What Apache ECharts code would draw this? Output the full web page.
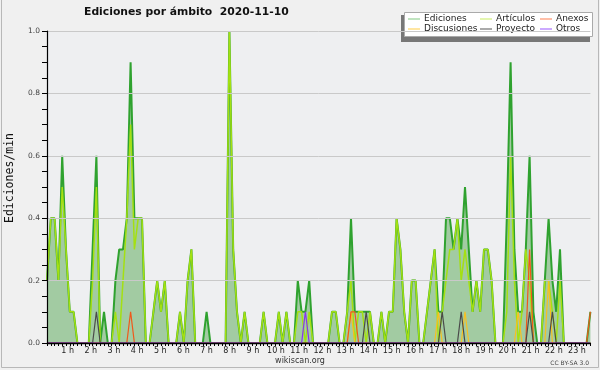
<!DOCTYPE html>
<html><head><meta charset="utf-8">
<script src="https://cdn.jsdelivr.net/npm/echarts@6/dist/echarts.min.js"></script>
<style>html,body{margin:0;padding:0;background:#f0f0f0;}#c{width:600px;height:370px;}</style>
</head><body><div id="c"></div>
<script>
// 10-minute buckets, edits per minute
const hourValues = [1,2,3,4,5,6,7,8,9,10,11,12,13,14,15,16,17,18,19,20,21,22,23];
const hourLabels = ['1 h','2 h','3 h','4 h','5 h','6 h','7 h','8 h','9 h','10 h','11 h','12 h','13 h','14 h','15 h','16 h','17 h','18 h','19 h','20 h','21 h','22 h','23 h'];
const yTicks = [0, 0.2, 0.4, 0.6, 0.8, 1.0];

const ediciones = [
0.2,0.4,0.4,0.2,0.6,0.3, 0.1,0.1,0,0,0,0, 0.3,0.6,0,0.1,0,0, 0.2,0.3,0.3,0.4,0.9,0.4,
0.4,0.4,0,0,0.1,0.2, 0.1,0.2,0,0,0,0.1, 0,0.2,0.3,0,0,0, 0.1,0,0,0,0,0,
1.0,0.3,0.1,0,0.1,0, 0,0,0,0.1,0,0, 0,0.1,0,0.1,0,0, 0.2,0.1,0.1,0.2,0,0,
0,0,0,0.1,0.1,0, 0,0.1,0.4,0.1,0.1,0.1, 0.1,0.1,0,0,0.1,0, 0.1,0.1,0.4,0.3,0.1,0,
0.2,0.2,0,0,0.1,0.2, 0.3,0.1,0.1,0.4,0.4,0.3, 0.4,0.3,0.5,0.3,0.1,0.2, 0.1,0.3,0.3,0.2,0,0,
0,0.4,0.9,0.3,0.1,0.1, 0.3,0.6,0.1,0,0,0.2, 0.4,0.2,0.1,0.3,0,0, 0,0,0,0,0,0.1];
const articulos = [
0.2,0.4,0.4,0.2,0.5,0.3, 0.1,0.1,0,0,0,0, 0.2,0.5,0,0,0,0, 0.1,0,0.2,0.4,0.7,0.3,
0.4,0.4,0,0,0.1,0.2, 0.1,0.2,0,0,0,0.1, 0,0.2,0.3,0,0,0, 0,0,0,0,0,0,
1.0,0.3,0.1,0,0.1,0, 0,0,0,0.1,0,0, 0,0.1,0,0.1,0,0, 0.1,0.1,0,0.1,0,0,
0,0,0,0.1,0.1,0, 0,0.1,0.2,0,0.1,0.1, 0,0.1,0,0,0.1,0, 0.1,0.1,0.4,0.3,0.1,0,
0.2,0.2,0,0,0.1,0.2, 0.3,0,0.1,0.2,0.3,0.3, 0.4,0.2,0.3,0.2,0.1,0.2, 0.1,0.3,0.3,0.2,0,0,
0,0.1,0.6,0.2,0,0.1, 0.3,0.2,0,0,0,0.2, 0.2,0.1,0,0.2,0,0, 0,0,0,0,0,0];
const anexos = [
0,0,0,0,0,0, 0,0,0,0,0,0, 0,0,0,0,0,0, 0,0,0,0,0.1,0,
0,0,0,0,0,0, 0,0,0,0,0,0, 0,0,0,0,0,0, 0,0,0,0,0,0,
0,0,0,0,0,0, 0,0,0,0,0,0, 0,0,0,0,0,0, 0,0,0,0,0,0,
0,0,0,0,0,0, 0,0,0.1,0.1,0,0, 0,0,0,0,0,0, 0,0,0,0,0,0,
0,0,0,0,0,0, 0,0,0,0,0,0, 0,0,0,0,0,0, 0,0,0,0,0,0,
0,0,0,0,0,0, 0,0.3,0,0,0,0, 0,0,0,0,0,0, 0,0,0,0,0,0.1];
const discusiones = [
0,0,0,0,0,0, 0,0,0,0,0,0, 0,0,0,0,0,0, 0,0,0,0,0,0,
0,0,0,0,0,0, 0,0,0,0,0,0, 0,0,0,0,0,0, 0,0,0,0,0,0,
0,0,0,0,0,0, 0,0,0,0,0,0, 0,0,0,0,0,0, 0,0,0,0,0,0,
0,0,0,0,0,0, 0,0,0.1,0,0,0, 0,0,0,0,0,0, 0,0,0,0,0,0,
0,0,0,0,0,0, 0,0.1,0,0,0,0, 0,0,0.1,0,0,0, 0,0,0,0,0,0,
0,0,0,0,0.1,0, 0,0,0,0,0,0, 0.2,0,0,0,0,0, 0,0,0,0,0,0];
const proyecto = [
0,0,0,0,0,0, 0,0,0,0,0,0, 0,0.1,0,0,0,0, 0,0,0,0,0,0,
0,0,0,0,0,0, 0,0,0,0,0,0, 0,0,0,0,0,0, 0,0,0,0,0,0,
0,0,0,0,0,0, 0,0,0,0,0,0, 0,0,0,0,0,0, 0,0,0,0,0,0,
0,0,0,0,0,0, 0,0,0,0,0,0, 0.1,0,0,0,0,0, 0,0,0,0,0,0,
0,0,0,0,0,0, 0,0,0.1,0,0,0, 0,0.1,0,0,0,0, 0,0,0,0,0,0,
0,0,0,0,0,0, 0,0.1,0,0,0,0, 0,0.1,0,0,0,0, 0,0,0,0,0,0];
const otros = [
0,0,0,0,0,0, 0,0,0,0,0,0, 0,0,0,0,0,0, 0,0,0,0,0,0,
0,0,0,0,0,0, 0,0,0,0,0,0, 0,0,0,0,0,0, 0,0,0,0,0,0,
0,0,0,0,0,0, 0,0,0,0,0,0, 0,0,0,0,0,0, 0,0,0.1,0,0,0,
0,0,0,0,0,0, 0,0,0,0,0,0, 0,0,0,0,0,0, 0,0,0,0,0,0,
0,0,0,0,0,0, 0,0,0,0,0,0, 0,0,0,0,0,0, 0,0,0,0,0,0,
0,0,0,0,0,0, 0,0,0,0,0,0, 0,0,0,0,0,0, 0,0,0,0,0,0];

const times = [];
for (let i = 0; i < ediciones.length; i++) {
  const m = i * 10;
  times.push(String(Math.floor(m / 60)).padStart(2, '0') + ':' + String(m % 60).padStart(2, '0'));
}

const chart = echarts.init(document.getElementById('c'), null, {renderer: 'canvas'});
const F = 'DejaVu Sans';
const lineS = (name, data, color, w, z) => ({
  name, type: 'line', data, xAxisIndex: 0, yAxisIndex: 0, symbol: 'none', z,
  lineStyle: {color, width: w}, itemStyle: {color}, animation: false
});
const legendBase = {
  orient: 'vertical', icon: 'rect', itemWidth: 12, itemHeight: 1, itemGap: 0, padding: 0, z: 8,
  selectedMode: false,
  textStyle: {fontFamily: F, fontSize: 9, color: '#222', lineHeight: 10, padding: [0, 0, 0, -1]}
};

chart.setOption({
  animation: false,
  backgroundColor: '#f0f0f0',
  title: {
    text: 'Ediciones por ámbito  2020-11-10', left: 84, top: 7, padding: 0,
    textStyle: {fontFamily: F, fontWeight: 'bold', fontSize: 10.8, color: '#111'}
  },
  legend: [
    Object.assign({}, legendBase, {left: 408, top: 14, data: [
      {name: 'Ediciones', itemStyle: {color: '#80c880'}},
      {name: 'Discusiones', itemStyle: {color: '#ffcc44'}}]}),
    Object.assign({}, legendBase, {left: 480, top: 14, data: [
      {name: 'Artículos', itemStyle: {color: '#c8ec60'}},
      {name: 'Proyecto', itemStyle: {color: '#555555'}}]}),
    Object.assign({}, legendBase, {left: 540, top: 14, data: [
      {name: 'Anexos', itemStyle: {color: '#ff7f50'}},
      {name: 'Otros', itemStyle: {color: '#9955ff'}}]})
  ],
  grid: {left: 47, right: 9.6, top: 31, bottom: 27, show: true, backgroundColor: '#eeeff1', borderWidth: 0},
  xAxis: [{
    type: 'category', data: times, boundaryGap: false, zlevel: 1, z: 20,
    axisLine: {lineStyle: {color: '#000', width: 1.4}},
    axisTick: {interval: 0, length: 3, lineStyle: {color: '#000'}},
    axisLabel: {show: false}, splitLine: {show: false}
  }, {
    type: 'value', min: 0.108, max: 23.58, position: 'bottom', z: 20,
    axisLine: {show: false}, axisTick: {show: false}, splitLine: {show: false},
    axisLabel: {
      customValues: hourValues, margin: 4,
      fontFamily: F, fontSize: 8, color: '#222',
      formatter: v => hourLabels[hourValues.indexOf(Math.round(v))] || ''
    }
  }],
  yAxis: {
    type: 'value', min: 0, max: 1, interval: 0.2, z: 20,
    axisLine: {show: true, lineStyle: {color: '#000', width: 1.2}},
    axisTick: {show: true, length: 5, lineStyle: {color: '#000'}},
    minorTick: {show: true, splitNumber: 4, length: 5, lineStyle: {color: '#000'}},
    splitLine: {show: true, lineStyle: {color: '#c9c9c9', width: 1}},
    axisLabel: {fontFamily: F, fontSize: 7.5, color: '#444', margin: 7,
      formatter: v => yTicks.indexOf(Math.round(v * 10) / 10) >= 0 ? v.toFixed(1) : ''}
  },
  graphic: [
    {type: 'line', shape: {x1: 1.5, y1: 0, x2: 1.5, y2: 367.5}, style: {stroke: '#b8b8b8', lineWidth: 1}, z: 1},
    {type: 'line', shape: {x1: 1.5, y1: 367.5, x2: 598.5, y2: 367.5}, style: {stroke: '#b8b8b8', lineWidth: 1}, z: 1},
    {type: 'line', shape: {x1: 598.5, y1: 0, x2: 598.5, y2: 367.5}, style: {stroke: '#b8b8b8', lineWidth: 1}, z: 1},
    {type: 'rect', shape: {x: 401, y: 15, width: 189, height: 27}, style: {fill: '#777'}, z: 6},
    {type: 'rect', shape: {x: 404.5, y: 12.5, width: 188, height: 24}, style: {fill: '#fff', stroke: '#aaa', lineWidth: 1}, z: 7},
    {type: 'text', rotation: Math.PI / 2, x: 10, y: 178,
      style: {text: 'Ediciones/min', fontFamily: 'DejaVu Sans Mono', fontSize: 11.5, fill: '#111', align: 'center', verticalAlign: 'middle'}, z: 5},
    {type: 'text', x: 300, y: 361,
      style: {text: 'wikiscan.org', fontFamily: F, fontSize: 8, fill: '#333', align: 'center', verticalAlign: 'middle'}, z: 5},
    {type: 'text', x: 589, y: 363,
      style: {text: 'CC BY-SA 3.0', fontFamily: F, fontSize: 6, fill: '#444', align: 'right', verticalAlign: 'middle'}, z: 5}
  ],
  series: [
    Object.assign(lineS('Ediciones', ediciones, '#2fa22f', 2, 2), {areaStyle: {color: '#a2cba2', opacity: 1}}),
    lineS('Artículos', articulos, '#a4e012', 1.5, 3),
    lineS('Discusiones', discusiones, '#f8c020', 1.2, 4),
    lineS('Anexos', anexos, '#f0581a', 1.2, 4),
    lineS('Proyecto', proyecto, '#4a4a4a', 1.2, 4),
    lineS('Otros', otros, '#8833ee', 1.2, 4)
  ]
});
</script></body></html>
